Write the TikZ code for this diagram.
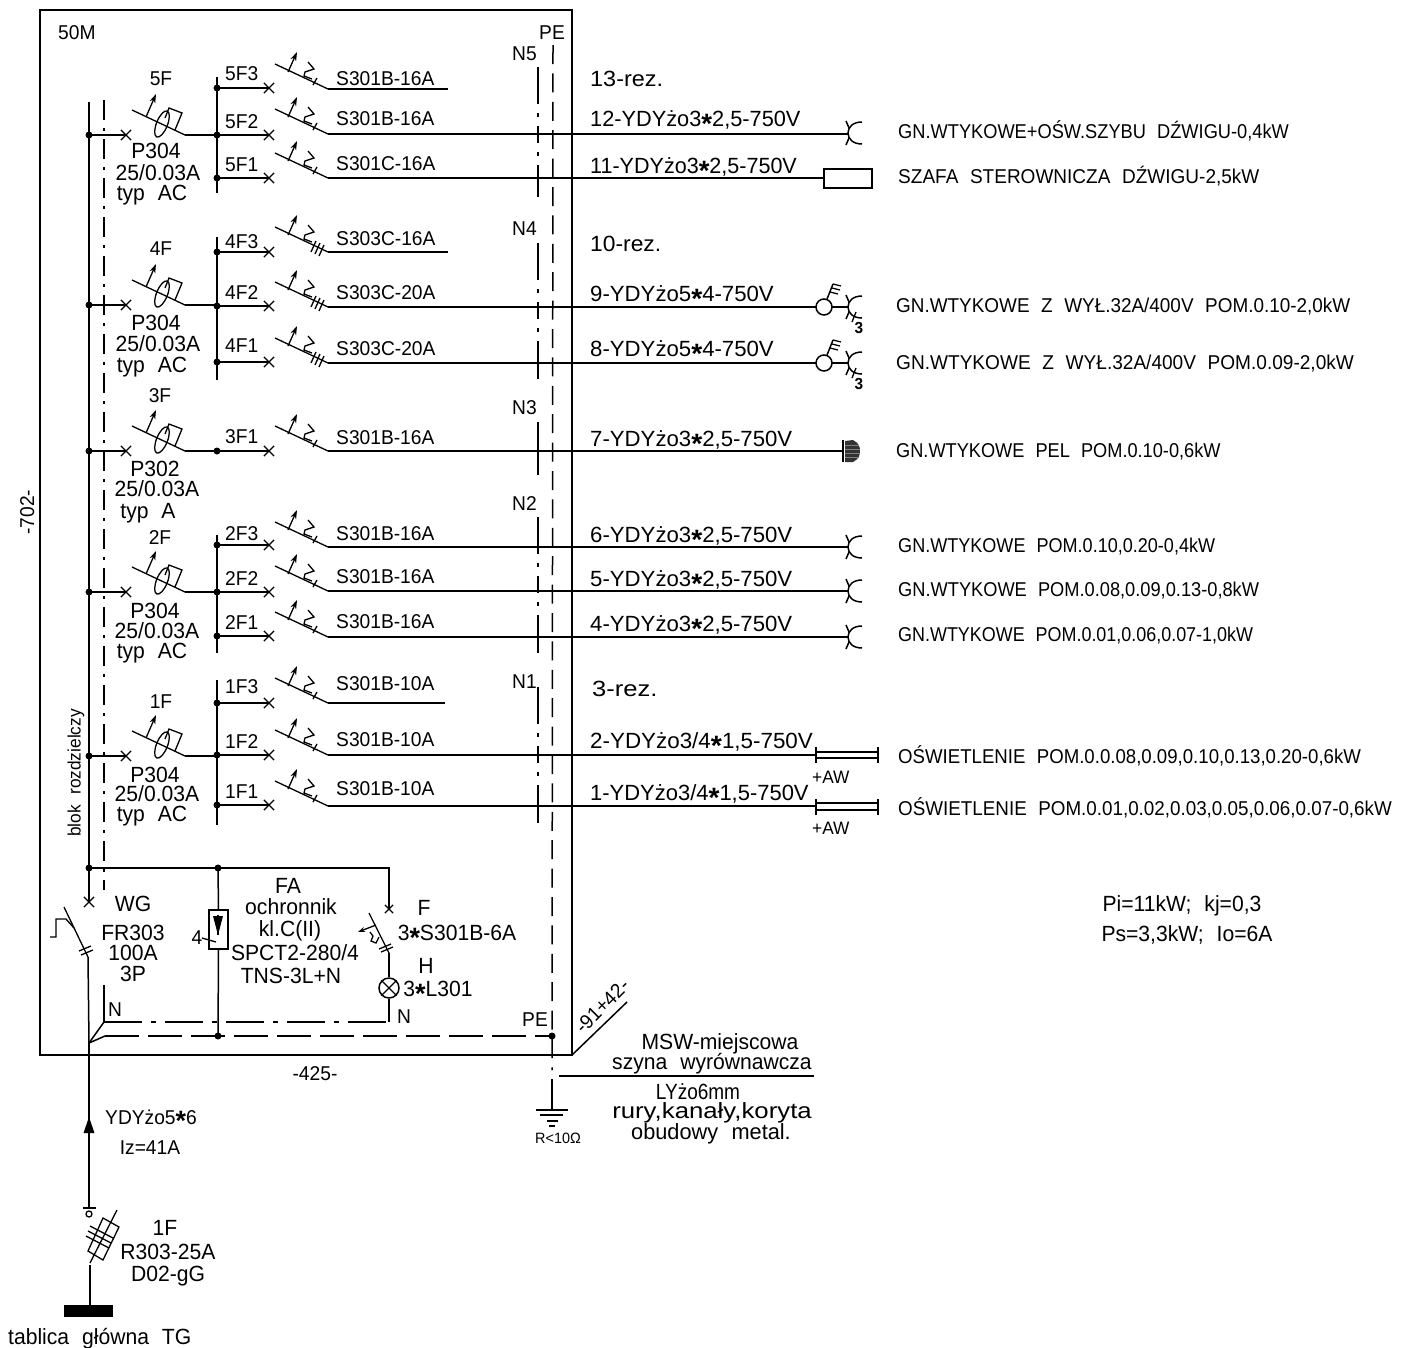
\documentclass[tikz,border=0pt]{standalone}
\usepackage{fontspec}
\usepackage{graphicx}
\setmainfont[FakeStretch=0.96,WordSpace=2.2]{Liberation Sans}
\usetikzlibrary{shapes,shapes.misc,arrows.meta}

\newcommand{\gw}{\raisebox{-.32em}{\fontsize{28}{28}\selectfont\textbf{*}}}
\newcommand{\sx}[2]{\scalebox{#1}[1]{#2}}
\newcommand{\feeder}[5]{%
  \node[dot] (j#1) at (217,#2) {};
  \node[xmark] (x#1) at (269,#2) {};
  \draw[wire] (j#1.center) -- (x#1.center);
  \pic at (275,{#3-25}) {#4};
  \coordinate (o#1) at (328,#3);
  \coordinate (e#1) at (#5,#3);
  \draw[wire] (o#1) -- (e#1);
}
\newcommand{\rcdunit}[2]{%
  \node[dot] (b#1) at (89,#2) {};
  \node[xmark] (c#1) at (126,#2) {};
  \draw[wire] (b#1.center) -- (c#1.center);
  \pic at (132,{#2-25}) {rcd};
  \coordinate (r#1) at (185,#2);
  \coordinate (g#1) at (217,#2);
  \draw[wire] (r#1) -- (g#1);
}

\tikzset{
  wire/.style={line width=1.5pt},
  fine/.style={line width=1.3pt},
  tip/.style={-{Stealth[length=9pt,width=6pt]}},
  lbl/.style={anchor=west, inner sep=0pt, text height=14pt, text depth=0pt, font=\fontsize{20}{22}\selectfont},
  ctr/.style={lbl, anchor=center},
  big/.style={ctr, text height=16pt, font=\fontsize{22}{24}\selectfont},
  bigl/.style={big, anchor=west},
  tiny/.style={ctr, text height=10pt, font=\fontsize{15}{17}\selectfont},
  dot/.style={circle, fill=black, inner sep=0pt, minimum size=7pt},
  xmark/.style={cross out, draw, line width=1.2pt, inner sep=0pt, minimum size=9pt},
  bladeone/.pic={
    \draw[fine] (0,0) -- (53,25);
    \draw[fine,tip] (13,8) -- (22,-12);
    \draw[fine] (33,-2) -- (39,5) -- (30,8) -- (29,12) -- (37,15);
    \draw[fine] (38,21) -- (42,14);
  },
  bladethree/.pic={
    \draw[fine] (0,0) -- (53,25);
    \draw[fine,tip] (13,8) -- (22,-12);
    \draw[fine] (33,-2) -- (39,5) -- (30,8) -- (29,12) -- (37,15);
    \draw[fine] (36,25) -- (41,14) (40,27) -- (45,16) (44,29) -- (49,18);
  },
  rcd/.pic={
    \draw[fine] (0,0) -- (53,25);
    \draw[fine,tip] (14,7) -- (24,-16);
    \draw[fine,shift={(30,14)},rotate=-22] (0,0) ellipse (5.5 and 14);
    \draw[fine] (33,8) -- (37,-2) -- (50,3) -- (43,20);
  },
  socket/.pic={
    \draw[wire] (14,-11) .. controls (5,-11) and (0,-6) .. (0,0) .. controls (0,6) and (5,11) .. (14,11);
    \draw[wire] (-2,-12) -- (1,-5) (1,5) -- (-2,12);
  },
  swsocket/.pic={
    \draw[wire] (8,0) -- (24,0);
    \draw[wire] (38,-11) .. controls (29,-11) and (24,-6) .. (24,0) .. controls (24,6) and (29,11) .. (38,11);
    \draw[wire] (22,-12) -- (25,-5) (25,5) -- (22,12);
    \draw[fine] (28,15) -- (32,5);
    \draw[wire] (3,-8) -- (9,-23);
    \draw[fine] (9,-23) -- (17,-21) (8,-19) -- (16,-17) (6,-15) -- (14,-13);
  },
}

\begin{document}
\begin{tikzpicture}[x=1pt,y=-1pt]
\useasboundingbox (0,0) rectangle (1405,1347);

% obudowa
\coordinate (fa) at (40,10);
\coordinate (fb) at (572,1055);
\coordinate (fc) at (627,1002);
\draw[wire] (fa) rectangle (fb);
\draw[wire] (fb) -- (fc);
\node[lbl] (t50m) at (58,32) {50M};
\node[ctr,rotate=90] (t702) at (27,512) {-702-};
\node[ctr] (t425) at (315,1073) {-425-};
\node[ctr,rotate=45] (t91) at (602,1006) {-91+42-};

% szyny
\coordinate (mt) at (89,102);
\coordinate (nt) at (104,100);
\coordinate (nb) at (104,890);
\node[xmark] (xw) at (89,902) {};
\draw[wire] (mt) -- (xw.center);
\draw[wire,dash pattern=on 20pt off 8pt on 3pt off 8pt] (nt) -- (nb);
\node[ctr,rotate=90,font=\fontsize{18}{20}\selectfont,text height=13pt] (tblok) at (74,773) {blok rozdzielczy};

\coordinate (pt) at (553,45);
\coordinate (pb) at (552,1070);
\draw[wire,dash pattern=on 19pt off 9.4pt] (pt) -- (pb);
\tikzset{nrail/.style={wire,dash pattern=on 37pt off 9pt on 4pt off 9pt on 17pt off 9pt on 4pt off 9pt on 38pt off 99pt}}
\coordinate (n5t) at (538,67); \coordinate (n5b) at (538,197);
\coordinate (n4t) at (538,243); \coordinate (n4b) at (538,388);
\coordinate (n3t) at (538,422); \coordinate (n3b) at (538,475);
\coordinate (n2t) at (538,517); \coordinate (n2b) at (538,655);
\coordinate (n1t) at (538,687); \coordinate (n1b) at (538,825);
\draw[nrail] (n5t) -- (n5b);
\draw[nrail] (n4t) -- (n4b);
\draw[wire] (n3t) -- (n3b);
\draw[nrail] (n2t) -- (n2b);
\draw[nrail] (n1t) -- (n1b);
\node[lbl] (tpe) at (539,32) {PE};
\node[lbl] (tn5) at (512,53) {N5};
\node[lbl] (tn4) at (512,228) {N4};
\node[lbl] (tn3) at (512,407) {N3};
\node[lbl] (tn2) at (512,503) {N2};
\node[lbl] (tn1) at (512,681) {N1};

% grupa 5F
\rcdunit{5}{135}
\coordinate (v5t) at (217,77); \coordinate (v5b) at (217,193);
\draw[wire] (v5t) -- (v5b);
\feeder{5F3}{88}{89}{bladeone}{448}
\feeder{5F2}{135}{134}{bladeone}{848}
\feeder{5F1}{178}{178}{bladeone}{824}
\node[ctr] (l5f) at (161,78) {5F};
\node[big] (l5a) at (156,150) {P304};
\node[big] (l5b) at (158,172) {25/0.03A};
\node[big] (l5c) at (152,192) {typ AC};
\node[lbl] (n5F3) at (225,73) {5F3};
\node[lbl] (n5F2) at (225,121) {5F2};
\node[lbl] (n5F1) at (225,164) {5F1};
\node[lbl] (s5F3) at (336,78) {S301B-16A};
\node[lbl] (s5F2) at (336,118) {S301B-16A};
\node[lbl] (s5F1) at (336,163) {S301C-16A};

% grupa 4F
\rcdunit{4}{305}
\coordinate (v4t) at (217,237); \coordinate (v4b) at (217,380);
\draw[wire] (v4t) -- (v4b);
\feeder{4F3}{252}{252}{bladethree}{448}
\feeder{4F2}{306}{307}{bladethree}{816}
\feeder{4F1}{362}{363}{bladethree}{816}
\node[ctr] (l4f) at (161,248) {4F};
\node[big] (l4a) at (156,322) {P304};
\node[big] (l4b) at (158,343) {25/0.03A};
\node[big] (l4c) at (152,364) {typ AC};
\node[lbl] (n4F3) at (225,241) {4F3};
\node[lbl] (n4F2) at (225,292) {4F2};
\node[lbl] (n4F1) at (225,345) {4F1};
\node[lbl] (s4F3) at (336,238) {S303C-16A};
\node[lbl] (s4F2) at (336,292) {S303C-20A};
\node[lbl] (s4F1) at (336,348) {S303C-20A};

% grupa 3F
\rcdunit{3}{451}
\feeder{3F1}{451}{451}{bladeone}{843}
\node[ctr] (l3f) at (160,395) {3F};
\node[big] (l3a) at (155,468) {P302};
\node[big] (l3b) at (157,488) {25/0.03A};
\node[big] (l3c) at (148,510) {typ A};
\node[lbl] (n3F1) at (225,436) {3F1};
\node[lbl] (s3F1) at (336,437) {S301B-16A};

% grupa 2F
\rcdunit{2}{592}
\coordinate (v2t) at (217,535); \coordinate (v2b) at (217,653);
\draw[wire] (v2t) -- (v2b);
\feeder{2F3}{545}{547}{bladeone}{848}
\feeder{2F2}{592}{591}{bladeone}{848}
\feeder{2F1}{636}{637}{bladeone}{848}
\node[ctr] (l2f) at (160,537) {2F};
\node[big] (l2a) at (155,610) {P304};
\node[big] (l2b) at (157,630) {25/0.03A};
\node[big] (l2c) at (152,650) {typ AC};
\node[lbl] (n2F3) at (225,533) {2F3};
\node[lbl] (n2F2) at (225,578) {2F2};
\node[lbl] (n2F1) at (225,622) {2F1};
\node[lbl] (s2F3) at (336,533) {S301B-16A};
\node[lbl] (s2F2) at (336,576) {S301B-16A};
\node[lbl] (s2F1) at (336,621) {S301B-16A};

% grupa 1F
\rcdunit{1}{756}
\coordinate (v1t) at (217,680); \coordinate (v1b) at (217,825);
\draw[wire] (v1t) -- (v1b);
\feeder{1F3}{703}{703}{bladeone}{445}
\feeder{1F2}{755}{755}{bladeone}{817}
\feeder{1F1}{805}{806}{bladeone}{817}
\node[ctr] (l1f) at (161,701) {1F};
\node[big] (l1a) at (155,774) {P304};
\node[big] (l1b) at (157,793) {25/0.03A};
\node[big] (l1c) at (152,813) {typ AC};
\node[lbl] (n1F3) at (225,686) {1F3};
\node[lbl] (n1F2) at (225,741) {1F2};
\node[lbl] (n1F1) at (225,791) {1F1};
\node[lbl] (s1F3) at (336,683) {S301B-10A};
\node[lbl] (s1F2) at (336,739) {S301B-10A};
\node[lbl] (s1F1) at (336,788) {S301B-10A};

% kable
\node[bigl] (k13) at (590,78) {\sx{1.11}{13-rez.}};
\node[bigl] (k12) at (590,118) {\sx{1.03}{12-YDYżo3\gw2,5-750V}};
\node[bigl] (k11) at (590,165) {\sx{1.02}{11-YDYżo3\gw2,5-750V}};
\node[bigl] (k10) at (590,243) {\sx{1.08}{10-rez.}};
\node[bigl] (k9) at (590,293) {\sx{1.05}{9-YDYżo5\gw4-750V}};
\node[bigl] (k8) at (590,348) {\sx{1.05}{8-YDYżo5\gw4-750V}};
\node[bigl] (k7) at (590,438) {\sx{1.05}{7-YDYżo3\gw2,5-750V}};
\node[bigl] (k6) at (590,534) {\sx{1.05}{6-YDYżo3\gw2,5-750V}};
\node[bigl] (k5) at (590,578) {\sx{1.05}{5-YDYżo3\gw2,5-750V}};
\node[bigl] (k4) at (590,623) {\sx{1.05}{4-YDYżo3\gw2,5-750V}};
\node[bigl] (k3) at (592,688) {\sx{1.21}{3-rez.}};
\node[bigl] (k2) at (590,740) {\sx{1.06}{2-YDYżo3/4\gw1,5-750V}};
\node[bigl] (k1) at (590,792) {\sx{1.04}{1-YDYżo3/4\gw1,5-750V}};

% odbiory
\coordinate (u12) at (848,133);
\pic at (u12) {socket};
\node[rectangle,draw,line width=1.5pt,minimum width=48pt,minimum height=19pt,inner sep=0pt] (szafa) at (848,178.5) {};
\node[circle,draw,line width=1.5pt,minimum size=16pt,inner sep=0pt] (w9) at (824,307) {};
\node[circle,draw,line width=1.5pt,minimum size=16pt,inner sep=0pt] (w8) at (824,363) {};
\draw[wire] (e4F2) -- (w9.west);
\draw[wire] (e4F1) -- (w8.west);
\pic at (w9.center) {swsocket};
\pic at (w8.center) {swsocket};
\node[tiny,font=\fontsize{16}{18}\selectfont\bfseries] (t39) at (859,328) {3};
\node[tiny,font=\fontsize{16}{18}\selectfont\bfseries] (t38) at (859,384) {3};
\coordinate (p1) at (843,440); \coordinate (p2) at (843,462);
\draw[wire] (p1) -- (p2);
\fill[black!80] (845,441) -- (853,440) .. controls (859,443) and (860,447) .. (860,451) .. controls (860,455) and (859,459) .. (853,462) -- (845,462) -- cycle;
\draw[gray,line width=.5pt] (845,445) -- (859,445) (845,449) -- (860,449) (845,453) -- (860,453) (845,457) -- (859,457);
\coordinate (u6) at (848,547); \coordinate (u5) at (848,591); \coordinate (u4) at (848,637);
\pic at (u6) {socket};
\pic at (u5) {socket};
\pic at (u4) {socket};
\draw[wire] (816,747) -- (816,763) (878,747) -- (878,763);
\draw[wire] (816,752) -- (878,752) (816,758) -- (878,758);
\draw[wire] (816,799) -- (816,815) (878,799) -- (878,815);
\draw[wire] (816,803) -- (878,803) (816,810) -- (878,810);
\node[lbl,text height=13pt,font=\fontsize{18}{20}\selectfont] (aw2) at (812,777) {+AW};
\node[lbl,text height=13pt,font=\fontsize{18}{20}\selectfont] (aw1) at (812,828) {+AW};

\node[lbl] (d12) at (898,131) {\sx{.95}{GN.WTYKOWE+OŚW.SZYBU DŹWIGU-0,4kW}};
\node[lbl] (d11) at (898,176) {\sx{.99}{SZAFA STEROWNICZA DŹWIGU-2,5kW}};
\node[lbl] (d9) at (896,305) {\sx{.985}{GN.WTYKOWE Z WYŁ.32A/400V POM.0.10-2,0kW}};
\node[lbl] (d8) at (896,362) {\sx{.993}{GN.WTYKOWE Z WYŁ.32A/400V POM.0.09-2,0kW}};
\node[lbl] (d7) at (896,450) {\sx{.947}{GN.WTYKOWE PEL POM.0.10-0,6kW}};
\node[lbl] (d6) at (898,545) {\sx{.94}{GN.WTYKOWE POM.0.10,0.20-0,4kW}};
\node[lbl] (d5) at (898,589) {\sx{.95}{GN.WTYKOWE POM.0.08,0.09,0.13-0,8kW}};
\node[lbl] (d4) at (898,634) {\sx{.934}{GN.WTYKOWE POM.0.01,0.06,0.07-1,0kW}};
\node[lbl] (d2) at (898,756) {\sx{.97}{OŚWIETLENIE POM.0.0.08,0.09,0.10,0.13,0.20-0,6kW}};
\node[lbl] (d1) at (898,808) {\sx{.98}{OŚWIETLENIE POM.0.01,0.02,0.03,0.05,0.06,0.07-0,6kW}};
\node[big] (pi) at (1182,903) {Pi=11kW; kj=0,3};
\node[big] (ps) at (1187,933) {Ps=3,3kW; Io=6A};

% rozdzielnia dol
\node[dot] (bb) at (89,868) {};
\node[dot] (ba) at (218,868) {};
\coordinate (bc) at (389,868);
\node[xmark,minimum size=7pt] (xf) at (389,909) {};
\draw[wire] (bb.center) -- (bc) -- (xf.center);

% WG
\coordinate (wa) at (64,907);
\coordinate (wb) at (88,957);
\coordinate (jn) at (89,1043);
\draw[fine] (wa) -- (wb);
\draw[fine] (50,937) -- (56,937) -- (56,919) -- (66,919) -- (74,928);
\draw[fine] (79,951) -- (91,946) (81,955) -- (93,950);
\draw[wire] (wb) -- (jn);
\node[big] (twg) at (133,903) {WG};
\node[big] (tfr) at (133,932) {FR303};
\node[big] (t100) at (133,952) {100A};
\node[big] (t3p) at (133,973) {3P};

% FA
\node[dot] (pd) at (218,1036) {};
\node[rectangle,draw,line width=1.5pt,fill=white,minimum width=19pt,minimum height=39pt,inner sep=0pt] (fa1) at (218.5,929.5) {};
\draw[wire] (ba.center) -- (fa1.north);
\draw[wire] (fa1.south) -- (pd.center);
\draw[fine] (218,915) -- (218,935);
\fill (213,916) -- (223,916) -- (218,935) -- cycle;
\draw[fine] (202,938) -- (216,942);
\node[ctr] (t4) at (197,937) {4};
\node[big] (tfa) at (288,885) {FA};
\node[big] (toch) at (291,906) {ochronnik};
\node[big] (tkl) at (290,928) {kl.C(II)};
\node[big] (tsp) at (295,952) {SPCT2-280/4};
\node[big] (ttn) at (291,975) {TNS-3L+N};

% F H
\coordinate (fo) at (369,913);
\coordinate (fu) at (389,953);
\draw[fine] (fo) -- (fu);
\draw[fine,-{Stealth[length=7pt,width=5pt]}] (376,925) -- (358,932);
\draw[fine] (370,932) -- (373,936) -- (371,941) -- (376,943) -- (379,937);
\draw[fine] (379,949) -- (391,944) (381,952) -- (393,947);
\node[circle,draw,line width=1.5pt,minimum size=20pt,inner sep=0pt] (lamp) at (389,988) {};
\draw[fine] (lamp.north west) -- (lamp.south east) (lamp.north east) -- (lamp.south west);
\draw[wire] (fu) -- (lamp.north);
\coordinate (nr) at (389,1022);
\draw[wire] (lamp.south) -- (nr);
\node[big] (tf) at (424,907) {F};
\node[big] (tsf) at (457,932) {3\gw S301B-6A};
\node[big] (th) at (426,965) {H};
\node[big] (tl) at (438,988) {3\gw L301};
\node[ctr] (tn) at (404,1016) {N};
\node[ctr] (tn2x) at (115,1009) {N};
\node[ctr] (tpe2) at (535,1019) {PE};

% N PE dol
\coordinate (nl) at (104,985);
\coordinate (nk) at (104,1022);
\draw[wire] (nl) -- (nk);
\draw[wire] (nk) -- (jn);
\draw[wire,dash pattern=on 38pt off 9pt on 5pt off 9pt] (nk) -- (nr);
\coordinate (pk) at (105,1036);
\node[dot] (pp) at (552,1036) {};
\draw[wire] (jn) -- (pk);
\draw[wire,dash pattern=on 34pt off 9pt] (pk) -- (pp.center);

% uziemienie
\coordinate (ga) at (552,1079);
\coordinate (gb) at (552,1110);
\draw[wire] (ga) -- (gb);
\draw[wire] (536,1110) -- (568,1110);
\draw[fine] (540,1115) -- (563,1115) (547,1121) -- (558,1121) (549,1126) -- (555,1126);
\node[tiny] (tr) at (558,1138) {R<10Ω};

\node[big] (tm1) at (720,1041) {MSW-miejscowa};
\node[big] (tm2) at (712,1061) {szyna wyrównawcza};
\coordinate (ma) at (559,1076);
\coordinate (mb) at (814,1076);
\draw[fine] (ma) -- (mb);
\node[big] (tm3) at (698,1091) {\sx{.9}{LYżo6mm}};
\node[big] (tm4) at (712,1110) {\sx{1.22}{rury,kanały,koryta}};
\node[big] (tm5) at (711,1131) {\sx{1.03}{obudowy metal.}};

% zasilanie
\coordinate (za) at (89,1208);
\coordinate (zb) at (90,1263);
\coordinate (zc) at (90,1265);
\node[rectangle,fill=black,minimum width=49pt,minimum height=12pt,inner sep=0pt] (tg) at (88.5,1311) {};
\draw[wire] (jn) -- (za);
\fill (89,1117) -- (94.5,1133) -- (83.5,1133) -- cycle;
\draw[fine] (83,1208) -- (96,1208);
\draw[fine] (89,1214) circle (3);
\draw[fine] (zb) -- (117,1210);
\draw[fine] (103,1218) -- (119,1227) -- (103,1260) -- (88,1251) -- cycle;
\draw[fine] (90,1226) -- (113,1238) (88,1231) -- (111,1243) (86,1236) -- (109,1248);
\draw[wire] (zc) -- (tg.north -| zc);
\node[ctr] (ty) at (151,1117) {YDYżo5\gw 6};
\node[ctr] (ti) at (150,1147) {Iz=41A};
\node[big] (t1f) at (165,1227) {1F};
\node[big] (tr3) at (168,1251) {R303-25A};
\node[big] (td) at (168,1273) {D02-gG};
\node[bigl] (ttg) at (8,1336) {\sx{1.0}{tablica główna TG}};
\end{tikzpicture}
\end{document}
